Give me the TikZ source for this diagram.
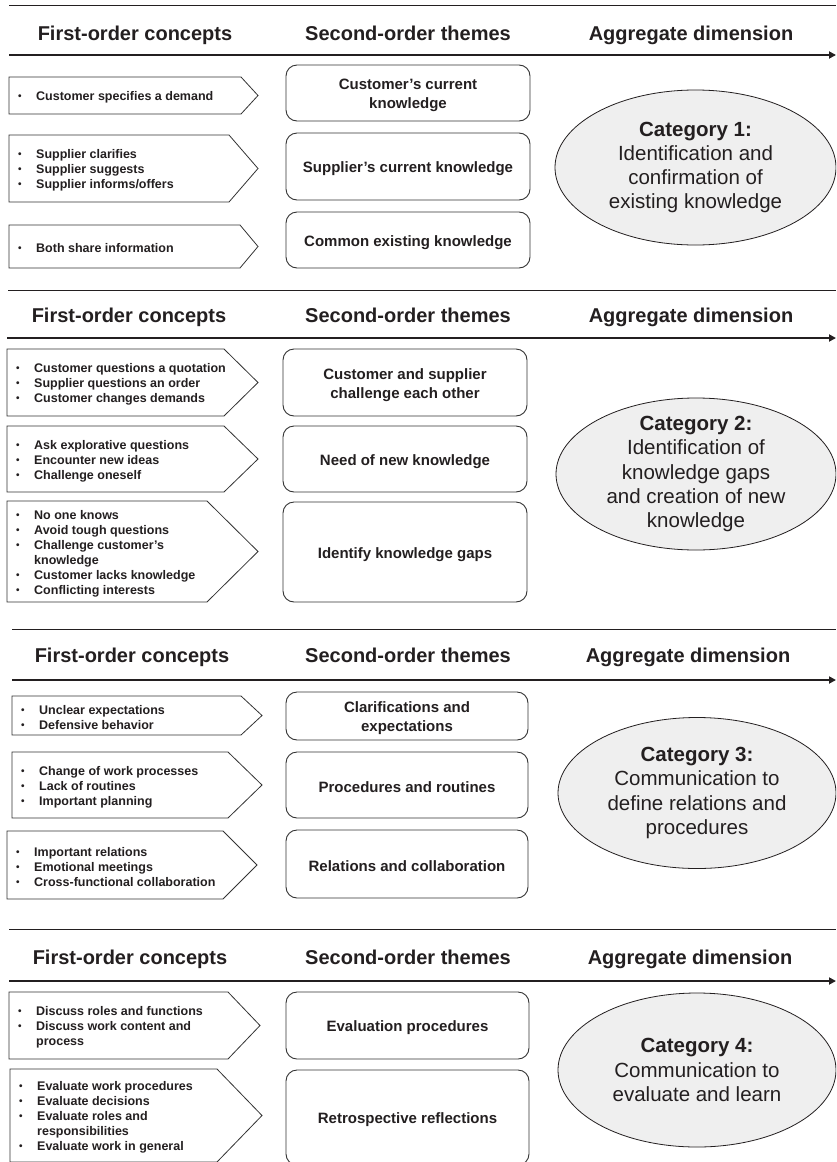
\documentclass[tikz,border=0pt]{standalone}
\usepackage{fontspec}
\setmainfont{Liberation Sans}
\usetikzlibrary{arrows.meta,shapes.geometric}
\definecolor{ink}{HTML}{231F20}
\definecolor{edge}{HTML}{333333}
\definecolor{ellfill}{HTML}{EFEFEF}
\tikzset{
  thinrule/.style={draw=ink, line width=0.9pt},
  axis/.style={draw=ink, line width=2.4pt, -{Triangle[length=7pt,width=7pt]}},
  pent/.style={draw=edge, line width=0.8pt},
  hdr/.style={font=\fontsize{20}{24}\selectfont\bfseries, text=ink, inner sep=0pt, anchor=base},
  bul/.style={font=\fontsize{12.5}{15}\selectfont\bfseries, text=ink, align=left, inner sep=0pt, anchor=west, yshift=-2pt},
  themebox/.style={draw=edge, line width=0.9pt, rounded corners=11pt, inner sep=0pt},
  themetext/.style={font=\fontsize{15}{19}\selectfont\bfseries, text=ink, align=center, inner sep=0pt, yshift=-2.5pt},
  cat/.style={ellipse, draw=ink, line width=0.8pt, fill=ellfill, inner sep=0pt},
  cattext/.style={font=\fontsize{20.5}{24.3}\selectfont, text=ink, align=center, inner sep=0pt},
}
\newcommand\bl[1]{\makebox[18pt][l]{\fontsize{10}{10}\selectfont\raisebox{1.2pt}{•}}#1}
\newcommand\cont[1]{\hspace*{18pt}#1}
% #1 name, #2 left, #3 top, #4 bottom, #5 notch, #6 tip, #7 text
\newcommand\concept[7]{%
  \draw[pent] (#2,#3) -- (#5,#3) -- (#6,{(#3+#4)/2}) -- (#5,#4) -- (#2,#4) -- cycle;
  \node[bul] (#1) at ({#2+9},{(#3+#4)/2}) {#7};
}
% #1 name, #2 cx, #3 cy, #4 width, #5 height, #6 text
\newcommand\theme[6]{%
  \node[themebox, minimum width=#4pt, minimum height=#5pt] (#1) at (#2,#3) {};
  \node[themetext] (#1l) at (#1.center) {#6};
}
% #1 name, #2 cx, #3 cy, #4 width, #5 height, #6 text
\newcommand\category[6]{%
  \node[cat, minimum width=#4pt, minimum height=#5pt] (#1) at (#2,#3) {};
  \node[cattext] (#1l) at (#1.center) {#6};
}
\begin{document}
\begin{tikzpicture}[x=1pt,y=-1pt]
\useasboundingbox (0,0) rectangle (836,1162);
\fill[white] (0,0) rectangle (836,1162);
\clip (0,0) rectangle (836,1162);

% ---------------- Section 1 ----------------
\coordinate (r1s) at (9,5); \coordinate (r1e) at (836,5);
\draw[thinrule] (r1s) -- (r1e);
\node[hdr] (h1a) at (135,40) {First-order concepts};
\node[hdr] (h1b) at (408,40) {Second-order themes};
\node[hdr] (h1c) at (691,40) {Aggregate dimension};
\coordinate (a1s) at (9,55); \coordinate (a1e) at (836,55);
\draw[axis] (a1s) -- (a1e);

\concept{c11}{9}{77}{114}{241}{258}{\bl{Customer specifies a demand}}
\concept{c12}{9}{135}{202}{229}{258}{\bl{Supplier clarifies}\\\bl{Supplier suggests}\\\bl{Supplier informs/offers}}
\concept{c13}{9}{225}{268}{240}{258}{\bl{Both share information}}

\theme{t11}{408}{93}{244}{56}{Customer’s current\\knowledge}
\theme{t12}{408}{166.5}{244}{67}{Supplier’s current knowledge}
\theme{t13}{408}{240}{244}{56}{Common existing knowledge}

\category{k1}{695.5}{167.5}{281}{155}{\textbf{Category 1:}\\Identification and\\confirmation of\\existing knowledge}

% ---------------- Section 2 ----------------
\coordinate (r2s) at (8,290); \coordinate (r2e) at (836,290);
\draw[thinrule] (r2s) -- (r2e);
\node[hdr] (h2a) at (129,322) {First-order concepts};
\node[hdr] (h2b) at (408,322) {Second-order themes};
\node[hdr] (h2c) at (691,322) {Aggregate dimension};
\coordinate (a2s) at (7,338); \coordinate (a2e) at (836,338);
\draw[axis] (a2s) -- (a2e);

\concept{c21}{7}{349}{416}{224}{258}{\bl{Customer questions a quotation}\\\bl{Supplier questions an order}\\\bl{Customer changes demands}}
\concept{c22}{7}{426}{492}{224}{258}{\bl{Ask explorative questions}\\\bl{Encounter new ideas}\\\bl{Challenge oneself}}
\concept{c23}{7}{501}{602}{207}{258}{\bl{No one knows}\\\bl{Avoid tough questions}\\\bl{Challenge customer’s}\\\cont{knowledge}\\\bl{Customer lacks knowledge}\\\bl{Conflicting interests}}

\theme{t21}{405}{382.5}{244}{67}{Customer and supplier\\challenge each other}
\theme{t22}{405}{459}{244}{66}{Need of new knowledge}
\theme{t23}{405}{552}{244}{100}{Identify knowledge gaps}

\category{k2}{696}{474}{280}{152}{\textbf{Category 2:}\\Identification of\\knowledge gaps\\and creation of new\\knowledge}

% ---------------- Section 3 ----------------
\coordinate (r3s) at (12,629); \coordinate (r3e) at (836,629);
\draw[thinrule] (r3s) -- (r3e);
\node[hdr] (h3a) at (132,662) {First-order concepts};
\node[hdr] (h3b) at (408,662) {Second-order themes};
\node[hdr] (h3c) at (688,662) {Aggregate dimension};
\coordinate (a3s) at (12,680); \coordinate (a3e) at (836,680);
\draw[axis] (a3s) -- (a3e);

\concept{c31}{12}{696}{735}{241}{262}{\bl{Unclear expectations}\\\bl{Defensive behavior}}
\concept{c32}{12}{752}{818}{228}{262}{\bl{Change of work processes}\\\bl{Lack of routines}\\\bl{Important planning}}
\concept{c33}{7}{831}{899}{223}{257}{\bl{Important relations}\\\bl{Emotional meetings}\\\bl{Cross-functional collaboration}}

\theme{t31}{407}{716}{242}{48}{Clarifications and\\expectations}
\theme{t32}{407}{785}{242}{66}{Procedures and routines}
\theme{t33}{407}{864}{242}{68}{Relations and collaboration}

\category{k3}{697}{793}{278}{151}{\textbf{Category 3:}\\Communication to\\define relations and\\procedures}

% ---------------- Section 4 ----------------
\coordinate (r4s) at (9,929); \coordinate (r4e) at (836,929);
\draw[thinrule] (r4s) -- (r4e);
\node[hdr] (h4a) at (130,964) {First-order concepts};
\node[hdr] (h4b) at (408,964) {Second-order themes};
\node[hdr] (h4c) at (690,964) {Aggregate dimension};
\coordinate (a4s) at (9,981); \coordinate (a4e) at (836,981);
\draw[axis] (a4s) -- (a4e);

\concept{c41}{9}{992}{1059}{228}{260}{\bl{Discuss roles and functions}\\\bl{Discuss work content and}\\\cont{process}}
\concept{c42}{10}{1069}{1162}{217}{262}{\bl{Evaluate work procedures}\\\bl{Evaluate decisions}\\\bl{Evaluate roles and}\\\cont{responsibilities}\\\bl{Evaluate work in general}}

\theme{t41}{407.5}{1025.5}{243}{67}{Evaluation procedures}
\theme{t42}{407.5}{1117.5}{243}{95}{Retrospective reflections}

\category{k4}{697}{1070}{278}{154}{\textbf{Category 4:}\\Communication to\\evaluate and learn}
\end{tikzpicture}
\end{document}
